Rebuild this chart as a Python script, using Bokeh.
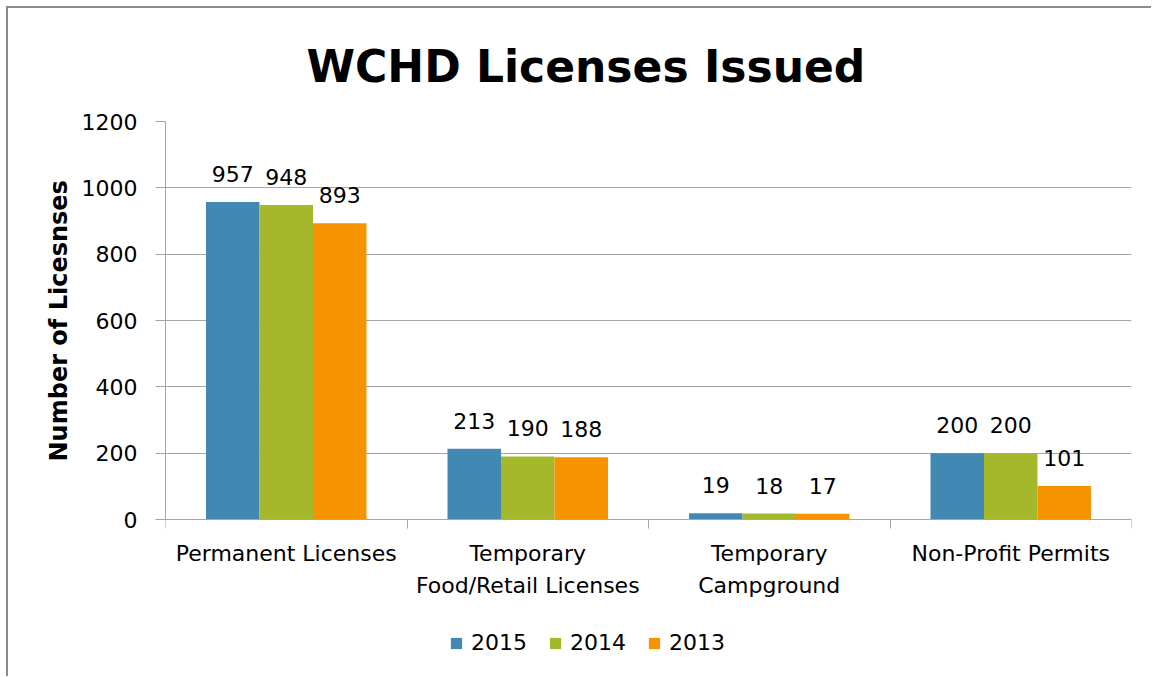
from bokeh.plotting import figure
from bokeh.models import Range1d, FixedTicker, Legend, LegendItem, LabelSet, ColumnDataSource
from bokeh.core.properties import value
from bokeh.embed import file_html
from bokeh.resources import INLINE

categories = ["Permanent Licenses", "Temporary\nFood/Retail Licenses", "Temporary\nCampground", "Non-Profit Permits"]
years = ["2015", "2014", "2013"]
values_2015 = [957, 213, 19, 200]
values_2014 = [948, 190, 18, 200]
values_2013 = [893, 188, 17, 101]
colors = ["#4189B3", "#A5B82B", "#F59300"]
y_ticks = [0, 200, 400, 600, 800, 1000, 1200]
y_title = "Number of Licesnses"

FONT = "DejaVu Sans"
GRID = "#A6A6A6"

# the value axis occupies 398 px of the 549 px frame; the rest below holds the category labels and legend
Y_MAX = 1200
Y_MIN = -151 * Y_MAX / 398

p = figure(frame_width=966, frame_height=549, output_backend="svg", toolbar_location=None,
           x_range=Range1d(0, len(categories)), y_range=Range1d(Y_MIN, Y_MAX),
           min_border_left=157, min_border_right=22, min_border_top=113, min_border_bottom=8)
p.outline_line_color = None
p.background_fill_color = "white"
p.border_fill_color = "white"
p.styles = {"box-shadow": "-2px -2px 0 0 #8C8C8C", "margin-left": "8px", "margin-top": "8px"}

p.title.text = "WCHD Licenses Issued"
p.title.align = "left"
p.title.text_font = FONT
p.title.text_font_style = "bold"
p.title.text_font_size = "44px"
p.title.text_color = "black"
p.title.offset = 141
p.title.standoff = 59

bar_w = 0.2215
series = [values_2015, values_2014, values_2013]
renderers = []
for j, (yr, vals, col) in enumerate(zip(years, series, colors)):
    xs = [i + 0.5 + (j - 1) * bar_w for i in range(len(categories))]
    src = ColumnDataSource(dict(x=xs, top=vals, lbl=[str(v) for v in vals]))
    r = p.vbar(x="x", top="top", width=bar_w, source=src, fill_color=col, line_color=None)
    renderers.append(r)
    labels = LabelSet(x="x", y="top", text="lbl", source=src, text_align="center",
                      text_baseline="bottom", y_offset=20, text_font=value(FONT),
                      text_font_size="22px", text_color="black")
    p.add_layout(labels)

# axes
p.xaxis.fixed_location = 0
p.xaxis.ticker = FixedTicker(ticks=[i + 0.5 for i in range(len(categories))],
                             minor_ticks=list(range(len(categories) + 1)))
p.xaxis.major_label_overrides = {i + 0.5: c for i, c in enumerate(categories)}
p.xaxis.major_tick_line_color = None
p.xaxis.major_tick_out = 0
p.xaxis.major_tick_in = 0
p.xaxis.minor_tick_out = 9
p.xaxis.minor_tick_in = 0
p.xaxis.minor_tick_line_color = GRID
p.xaxis.axis_line_color = GRID
p.xaxis.major_label_text_font = FONT
p.xaxis.major_label_text_font_size = "22px"
p.xaxis.major_label_text_color = "black"
p.xaxis.major_label_standoff = 12
p.xaxis.major_label_text_line_height = 1.28

p.yaxis.bounds = (0, Y_MAX)
p.yaxis.ticker = FixedTicker(ticks=y_ticks)
p.yaxis.major_tick_out = 10
p.yaxis.major_tick_in = 0
p.yaxis.major_tick_line_color = GRID
p.yaxis.minor_tick_line_color = None
p.yaxis.axis_line_color = GRID
p.yaxis.major_label_text_font = FONT
p.yaxis.major_label_text_font_size = "22px"
p.yaxis.major_label_text_color = "black"
p.yaxis.major_label_standoff = 18
# leading no-break spaces lift the centred title to the middle of the 0-1200 span
p.yaxis.axis_label = "\u00a0" * 18 + y_title
p.yaxis.axis_label_text_font = FONT
p.yaxis.axis_label_text_font_style = "bold"
p.yaxis.axis_label_text_font_size = "24px"
p.yaxis.axis_label_text_color = "black"
p.yaxis.axis_label_standoff = 6

p.xgrid.grid_line_color = None
p.ygrid.ticker = FixedTicker(ticks=y_ticks)
p.ygrid.grid_line_color = GRID

legend = Legend(items=[LegendItem(label=yr, renderers=[r]) for yr, r in zip(years, renderers)],
                orientation="horizontal", location=(284, 15),
                glyph_width=14, glyph_height=14, label_standoff=8, spacing=21,
                padding=0, margin=0, border_line_color=None, background_fill_alpha=0,
                label_text_font=FONT, label_text_font_size="22px", label_text_color="black")
p.add_layout(legend, "center")

open("out.html", "w").write(file_html(p, INLINE))
